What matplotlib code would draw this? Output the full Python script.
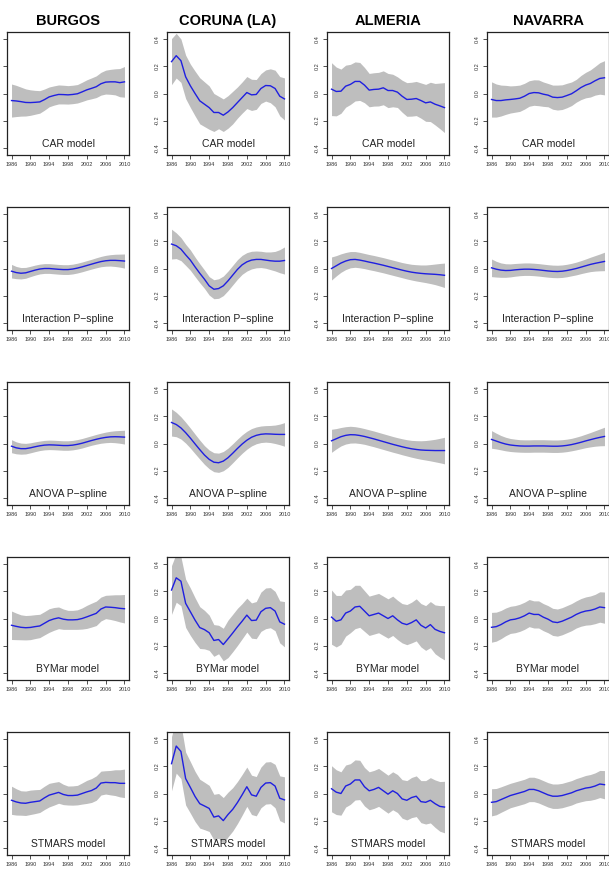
import matplotlib
matplotlib.use("Agg")
import matplotlib.pyplot as plt
import numpy as np

plt.rcParams['font.family'] = ['Liberation Sans', 'DejaVu Sans']

years = list(range(1986, 2011))
year_ticks = [1986, 1990, 1994, 1998, 2002, 2006, 2010]
y_ticks = [-0.4, -0.2, 0.0, 0.2, 0.4]
y_tick_labels = ["-0.4", "-0.2", "0.0", "0.2", "0.4"]
regions = ["BURGOS", "CORUNA (LA)", "ALMERIA", "NAVARRA"]
models = ["CAR model", "Interaction P\u2212spline", "ANOVA P\u2212spline", "BYMar model", "STMARS model"]

# ---- CAR model (mean, half-width of band) ----
bur_car_m = [-0.052,-0.055,-0.060,-0.066,-0.067,-0.065,-0.062,-0.045,-0.025,-0.015,-0.007,-0.008,-0.010,-0.007,-0.002,0.012,0.027,0.038,0.050,0.072,0.084,0.086,0.086,0.080,0.086]
bur_car_w = [0.122,0.115,0.107,0.100,0.094,0.088,0.083,0.078,0.073,0.071,0.070,0.069,0.068,0.068,0.068,0.071,0.074,0.077,0.080,0.084,0.088,0.092,0.096,0.104,0.113]
cor_car_m = [0.235,0.279,0.242,0.123,0.057,0.000,-0.054,-0.079,-0.104,-0.140,-0.140,-0.160,-0.136,-0.104,-0.067,-0.030,0.007,-0.010,-0.007,0.037,0.059,0.057,0.037,-0.020,-0.040]
cor_car_w = [0.17,0.165,0.16,0.16,0.16,0.165,0.17,0.165,0.16,0.14,0.12,0.12,0.12,0.12,0.115,0.115,0.118,0.115,0.11,0.11,0.115,0.125,0.135,0.145,0.155]
alm_car_m = [0.032,0.015,0.017,0.054,0.067,0.089,0.089,0.062,0.025,0.030,0.032,0.042,0.022,0.022,0.010,-0.020,-0.044,-0.042,-0.037,-0.052,-0.069,-0.062,-0.079,-0.091,-0.104]
alm_car_w = [0.195,0.18,0.163,0.155,0.148,0.144,0.14,0.13,0.123,0.123,0.124,0.125,0.126,0.12,0.113,0.118,0.124,0.125,0.126,0.13,0.136,0.145,0.153,0.168,0.184]
nav_car_m = [-0.044,-0.052,-0.052,-0.047,-0.044,-0.040,-0.035,-0.020,0.000,0.007,0.005,-0.005,-0.012,-0.027,-0.030,-0.027,-0.015,-0.002,0.020,0.044,0.062,0.074,0.094,0.111,0.116]
nav_car_w = [0.13,0.122,0.114,0.107,0.1,0.098,0.097,0.095,0.094,0.094,0.095,0.09,0.086,0.089,0.092,0.091,0.09,0.087,0.084,0.089,0.094,0.1,0.106,0.116,0.126]

# ---- Interaction P-spline ----
bur_int_m = [-0.02,-0.03,-0.035,-0.032,-0.022,-0.012,-0.004,0.0,0.0,-0.003,-0.006,-0.008,-0.008,-0.004,0.003,0.012,0.022,0.032,0.042,0.051,0.057,0.06,0.06,0.058,0.055]
bur_int_w = [0.05,0.045,0.042,0.04,0.038,0.037,0.036,0.036,0.036,0.036,0.036,0.036,0.036,0.036,0.036,0.036,0.036,0.036,0.037,0.038,0.04,0.042,0.045,0.048,0.052]
cor_int_m = [0.18,0.168,0.143,0.101,0.062,0.012,-0.035,-0.079,-0.128,-0.153,-0.148,-0.128,-0.091,-0.049,-0.007,0.027,0.049,0.062,0.067,0.067,0.062,0.057,0.054,0.054,0.059]
cor_int_w = [0.11,0.095,0.085,0.078,0.075,0.072,0.07,0.068,0.068,0.07,0.072,0.072,0.072,0.072,0.072,0.07,0.068,0.065,0.062,0.06,0.06,0.065,0.072,0.085,0.1]
alm_int_m = [0.0,0.02,0.04,0.055,0.065,0.067,0.062,0.055,0.047,0.04,0.032,0.024,0.015,0.006,-0.003,-0.012,-0.02,-0.027,-0.032,-0.036,-0.039,-0.041,-0.043,-0.046,-0.05]
alm_int_w = [0.085,0.075,0.068,0.063,0.06,0.058,0.057,0.056,0.056,0.056,0.056,0.056,0.056,0.056,0.056,0.056,0.057,0.058,0.06,0.062,0.065,0.07,0.076,0.083,0.09]
nav_int_m = [0.005,-0.005,-0.012,-0.015,-0.014,-0.01,-0.007,-0.005,-0.005,-0.007,-0.01,-0.014,-0.018,-0.021,-0.022,-0.02,-0.015,-0.008,0.0,0.01,0.02,0.03,0.038,0.045,0.052]
nav_int_w = [0.065,0.058,0.053,0.05,0.048,0.047,0.046,0.046,0.046,0.046,0.046,0.046,0.046,0.046,0.046,0.046,0.046,0.046,0.047,0.048,0.05,0.053,0.057,0.062,0.068]

# ---- ANOVA P-spline ----
bur_ano_m = [-0.02,-0.032,-0.038,-0.038,-0.032,-0.024,-0.017,-0.012,-0.01,-0.011,-0.013,-0.015,-0.015,-0.012,-0.006,0.002,0.012,0.022,0.031,0.039,0.045,0.049,0.05,0.049,0.047]
bur_ano_w = [0.048,0.044,0.041,0.039,0.037,0.036,0.035,0.035,0.035,0.035,0.035,0.035,0.035,0.035,0.035,0.035,0.035,0.035,0.036,0.037,0.039,0.041,0.044,0.047,0.051]
cor_ano_m = [0.155,0.14,0.115,0.08,0.04,-0.003,-0.045,-0.085,-0.117,-0.138,-0.142,-0.13,-0.105,-0.072,-0.037,-0.004,0.024,0.046,0.06,0.068,0.071,0.07,0.068,0.067,0.067]
cor_ano_w = [0.1,0.09,0.082,0.077,0.074,0.072,0.07,0.069,0.069,0.07,0.071,0.071,0.071,0.07,0.069,0.068,0.066,0.064,0.062,0.061,0.061,0.063,0.068,0.076,0.087]
alm_ano_m = [0.02,0.035,0.05,0.06,0.065,0.064,0.059,0.052,0.043,0.034,0.024,0.014,0.004,-0.006,-0.015,-0.024,-0.032,-0.039,-0.044,-0.048,-0.05,-0.051,-0.052,-0.052,-0.052]
alm_ano_w = [0.085,0.075,0.068,0.064,0.062,0.06,0.059,0.058,0.058,0.058,0.058,0.058,0.058,0.058,0.058,0.059,0.06,0.062,0.065,0.068,0.072,0.077,0.083,0.09,0.098]
nav_ano_m = [0.03,0.018,0.006,-0.004,-0.011,-0.015,-0.018,-0.019,-0.019,-0.018,-0.018,-0.018,-0.019,-0.02,-0.02,-0.018,-0.014,-0.008,0.0,0.009,0.019,0.028,0.037,0.045,0.052]
nav_ano_w = [0.065,0.058,0.053,0.05,0.048,0.047,0.046,0.046,0.046,0.046,0.046,0.046,0.046,0.046,0.046,0.046,0.046,0.046,0.047,0.048,0.05,0.053,0.057,0.062,0.068]

# ---- BYMar model ----
bur_bym_m = [-0.05,-0.058,-0.065,-0.068,-0.066,-0.06,-0.055,-0.035,-0.015,-0.003,0.005,-0.005,-0.01,-0.01,-0.008,0.0,0.012,0.025,0.038,0.07,0.085,0.083,0.08,0.075,0.072]
bur_bym_w = [0.105,0.098,0.092,0.09,0.09,0.088,0.086,0.086,0.087,0.084,0.08,0.075,0.07,0.07,0.072,0.078,0.085,0.088,0.09,0.088,0.086,0.09,0.095,0.1,0.105]
cor_bym_m = [0.21,0.3,0.275,0.112,0.05,-0.012,-0.067,-0.082,-0.105,-0.162,-0.155,-0.192,-0.15,-0.107,-0.062,-0.02,0.025,-0.015,-0.012,0.05,0.075,0.08,0.055,-0.025,-0.042]
cor_bym_w = [0.18,0.18,0.18,0.178,0.175,0.165,0.154,0.142,0.13,0.117,0.105,0.12,0.138,0.138,0.137,0.13,0.125,0.13,0.137,0.145,0.15,0.148,0.145,0.155,0.167]
alm_bym_m = [0.01,-0.02,-0.01,0.04,0.055,0.085,0.09,0.055,0.02,0.03,0.04,0.02,0.0,0.02,-0.01,-0.035,-0.045,-0.03,-0.01,-0.05,-0.07,-0.045,-0.08,-0.095,-0.105]
alm_bym_w = [0.2,0.19,0.18,0.17,0.16,0.16,0.155,0.15,0.145,0.145,0.145,0.145,0.145,0.145,0.145,0.145,0.148,0.15,0.155,0.16,0.165,0.17,0.18,0.19,0.2]
nav_bym_m = [-0.065,-0.06,-0.045,-0.025,-0.01,-0.005,0.005,0.02,0.04,0.03,0.03,0.01,-0.005,-0.025,-0.03,-0.02,-0.005,0.01,0.03,0.045,0.055,0.06,0.07,0.085,0.08]
nav_bym_w = [0.11,0.107,0.104,0.102,0.1,0.1,0.1,0.1,0.1,0.1,0.1,0.1,0.1,0.1,0.1,0.1,0.1,0.1,0.1,0.102,0.104,0.106,0.108,0.112,0.115]

# ---- STMARS model ----
bur_stm_m = [-0.05,-0.062,-0.07,-0.072,-0.065,-0.06,-0.055,-0.032,-0.012,-0.002,0.008,-0.007,-0.015,-0.015,-0.012,0.0,0.012,0.022,0.04,0.077,0.082,0.08,0.08,0.075,0.075]
bur_stm_w = [0.104,0.097,0.09,0.09,0.09,0.088,0.085,0.086,0.087,0.084,0.08,0.075,0.07,0.071,0.072,0.078,0.085,0.088,0.09,0.088,0.086,0.09,0.095,0.1,0.105]
cor_stm_m = [0.22,0.35,0.31,0.11,0.045,-0.022,-0.075,-0.092,-0.11,-0.174,-0.165,-0.2,-0.155,-0.117,-0.067,-0.01,0.05,-0.01,-0.02,0.045,0.077,0.08,0.055,-0.035,-0.047]
cor_stm_w = [0.2,0.2,0.2,0.195,0.19,0.185,0.18,0.175,0.17,0.168,0.165,0.17,0.165,0.16,0.155,0.15,0.145,0.145,0.145,0.15,0.155,0.155,0.16,0.165,0.17]
alm_stm_m = [0.035,0.01,0.0,0.055,0.07,0.1,0.1,0.05,0.02,0.03,0.045,0.02,-0.005,0.02,0.0,-0.04,-0.05,-0.03,-0.02,-0.06,-0.065,-0.05,-0.075,-0.095,-0.1]
alm_stm_w = [0.17,0.165,0.16,0.155,0.15,0.148,0.145,0.142,0.14,0.14,0.14,0.14,0.14,0.14,0.14,0.142,0.145,0.148,0.15,0.155,0.16,0.167,0.175,0.183,0.19]
nav_stm_m = [-0.065,-0.06,-0.045,-0.03,-0.015,-0.005,0.005,0.015,0.03,0.03,0.02,0.005,-0.01,-0.02,-0.02,-0.015,-0.005,0.005,0.02,0.03,0.04,0.045,0.055,0.07,0.065]
nav_stm_w = [0.1,0.097,0.094,0.092,0.09,0.09,0.09,0.09,0.09,0.09,0.09,0.09,0.09,0.09,0.09,0.09,0.09,0.09,0.09,0.091,0.093,0.095,0.097,0.1,0.104]

table = [
    [(bur_car_m, bur_car_w), (cor_car_m, cor_car_w), (alm_car_m, alm_car_w), (nav_car_m, nav_car_w)],
    [(bur_int_m, bur_int_w), (cor_int_m, cor_int_w), (alm_int_m, alm_int_w), (nav_int_m, nav_int_w)],
    [(bur_ano_m, bur_ano_w), (cor_ano_m, cor_ano_w), (alm_ano_m, alm_ano_w), (nav_ano_m, nav_ano_w)],
    [(bur_bym_m, bur_bym_w), (cor_bym_m, cor_bym_w), (alm_bym_m, alm_bym_w), (nav_bym_m, nav_bym_w)],
    [(bur_stm_m, bur_stm_w), (cor_stm_m, cor_stm_w), (alm_stm_m, alm_stm_w), (nav_stm_m, nav_stm_w)],
]

W, H = 609, 889
fig = plt.figure(figsize=(W / 100, H / 100), dpi=100)
col_left = [7, 167, 327, 487]
row_top = [32, 207, 382, 557, 732]
aw, ah = 122, 123

x = np.array(years, dtype=float)
for r in range(5):
    for c in range(4):
        m, w = table[r][c]
        m = np.array(m); w = np.array(w)
        ax = fig.add_axes([col_left[c] / W, 1 - (row_top[r] + ah) / H, aw / W, ah / H])
        ax.fill_between(x, m - w, m + w, color='#bebebe', linewidth=0)
        ax.plot(x, m, color='#1f1fe0', linewidth=1.0)
        ax.set_xlim(1986 - 0.96, 2010 + 0.96)
        ax.set_ylim(-0.4536, 0.4536)
        ax.set_xticks(year_ticks)
        ax.set_xticklabels([str(t) for t in year_ticks])
        ax.set_yticks(y_ticks)
        ax.set_yticklabels(y_tick_labels, rotation=90, va='center')
        ax.tick_params(axis='both', labelsize=4, length=3, width=0.6, pad=2, colors='#333333', labelcolor='#333333')
        for s in ax.spines.values():
            s.set_linewidth(0.9)
            s.set_color('#222222')
        ax.text(1998, -0.375, models[r], ha='center', va='center', fontsize=7.5, color='#222222')
        if r == 0:
            ax.text(0.5, 1 + 11 / ah, regions[c], transform=ax.transAxes, ha='center', va='center',
                    fontsize=10.5, fontweight='bold', color='black')

fig.savefig('out.png', dpi=100)
